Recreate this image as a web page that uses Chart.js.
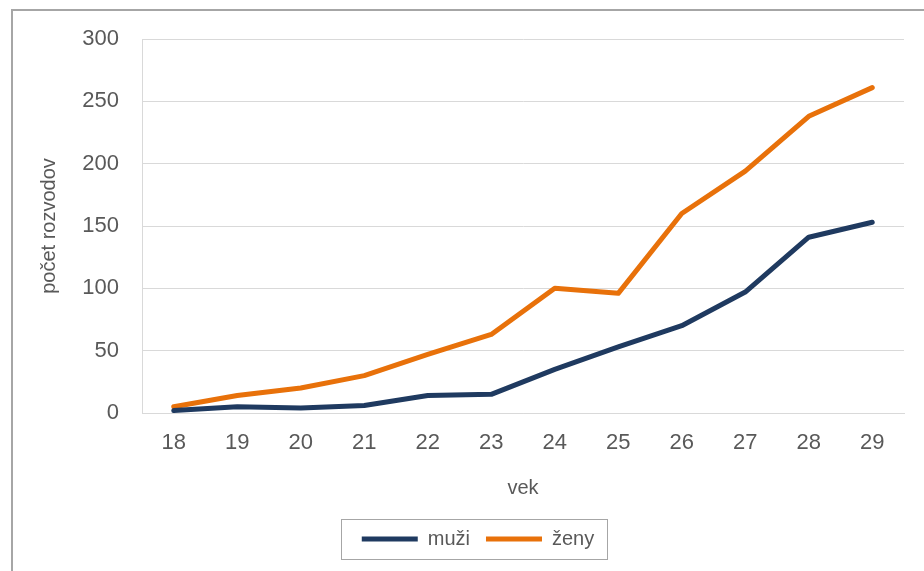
<!DOCTYPE html>
<html><head><meta charset="utf-8">
<script src="https://cdn.jsdelivr.net/npm/chart.js@4/dist/chart.umd.min.js"></script>
<style>html,body{margin:0;padding:0;background:#fff;}#wrap{width:924px;height:571px;}</style>
</head><body><div id="wrap"><canvas id="c" width="924" height="571"></canvas></div>
<script>
const categories = ['18','19','20','21','22','23','24','25','26','27','28','29'];
const muzi = [2,5,4,6,14,15,35,53,70,97,141,153];
const zeny = [5,14,20,30,47,63,100,96,160,194,238,261];
const yTicks = [0,50,100,150,200,250,300];
const LEG_PAD = 16;

const frame = {
  id:'frame',
  afterUpdate(chart){
    const lg=chart.legend; if(!lg) return;
    lg.left+=11; lg.right+=11;
  },
  beforeDraw(chart){
    const ctx=chart.ctx; ctx.save();
    ctx.fillStyle='#fff'; ctx.fillRect(0,0,chart.width,chart.height);
    ctx.strokeStyle='#a6a6a6'; ctx.lineWidth=2;
    ctx.beginPath();
    ctx.moveTo(12,571); ctx.lineTo(12,10); ctx.lineTo(924,10);
    ctx.stroke();
    ctx.restore();
  },
  afterDraw(chart){
    const lg=chart.legend; if(!lg||!lg.lineWidths) return;
    const w=lg.lineWidths[0];
    const x=(lg.left+LEG_PAD+lg.right-w)/2;
    const l=x-21, r=x+w-LEG_PAD+13;
    const cy=lg.top+LEG_PAD+10;
    const t=cy-20, b=cy+20;
    const ctx=chart.ctx; ctx.save(); ctx.strokeStyle='#a6a6a6'; ctx.lineWidth=1;
    ctx.strokeRect(Math.round(l)+0.5,Math.round(t)+0.5,Math.round(r-l),Math.round(b-t)); ctx.restore();
  }
};

new Chart(document.getElementById('c'),{
  type:'line',
  data:{labels:categories,datasets:[
    {label:'muži',data:muzi,borderColor:'#1f3a60',backgroundColor:'#1f3a60',borderWidth:5,pointRadius:0,tension:0,borderCapStyle:'round',borderJoinStyle:'round'},
    {label:'ženy',data:zeny,borderColor:'#e8710a',backgroundColor:'#e8710a',borderWidth:5,pointRadius:0,tension:0,borderCapStyle:'round',borderJoinStyle:'round'}
  ]},
  options:{
    responsive:false,animation:false,
    layout:{padding:{left:30,top:39,right:20,bottom:12}},
    plugins:{
      tooltip:{enabled:false},
      legend:{position:'bottom',labels:{usePointStyle:true,pointStyle:'line',pointStyleWidth:56,boxHeight:20,padding:LEG_PAD,color:'#595959',font:{family:'Liberation Sans',size:20}}}
    },
    scales:{
      x:{offset:true,
        grid:{display:false,drawTicks:false},
        border:{display:true,color:'#d9d9d9'},
        ticks:{color:'#595959',padding:17,font:{family:'Liberation Sans',size:22}},
        title:{display:true,text:'vek',color:'#595959',font:{family:'Liberation Sans',size:20},padding:{top:0,bottom:13}},
        afterFit(s){s.height=100;}
      },
      y:{min:0,max:300,
        afterBuildTicks(s){s.ticks=yTicks.map(v=>({value:v}));},
        grid:{color:'#d9d9d9',lineWidth:1,drawTicks:false},
        border:{display:true,color:'#d9d9d9'},
        ticks:{color:'#595959',padding:23,font:{family:'Liberation Sans',size:22}},
        title:{display:true,text:'počet rozvodov',color:'#595959',font:{family:'Liberation Sans',size:20},padding:{top:7,bottom:0}},
        afterFit(s){s.width=112;}
      }
    }
  },
  plugins:[frame]
});
</script></body></html>
